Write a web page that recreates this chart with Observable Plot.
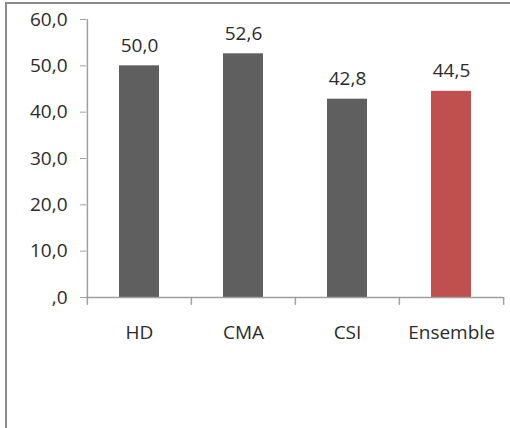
<!DOCTYPE html>
<html><head><meta charset="utf-8">
<script src="https://cdn.jsdelivr.net/npm/d3@7"></script>
<script src="https://cdn.jsdelivr.net/npm/@observablehq/plot@0.6"></script>
<style>
body{margin:0;background:#fff;}
#wrap{position:relative;width:510px;height:428px;overflow:hidden;}
#wrap svg{position:absolute;left:0;top:0;}
#border{position:absolute;left:5px;top:2px;width:520px;height:440px;border-left:2px solid #8a8a8a;border-top:2px solid #8a8a8a;}
#wrap svg [aria-label="y-axis tick"]{stroke:#a0a0a0;}
</style></head><body><div id="wrap"><div id="border"></div></div>
<script>
const categories = ["HD", "CMA", "CSI", "Ensemble"];
const values = [50.0, 52.6, 42.8, 44.5];
const valueLabels = ["50,0", "52,6", "42,8", "44,5"];
const barColors = ["#5f5f5f", "#5f5f5f", "#5f5f5f", "#c0504d"];
const yTicks = [0, 10, 20, 30, 40, 50, 60];
const yTickLabels = [",0", "10,0", "20,0", "30,0", "40,0", "50,0", "60,0"];

const data = categories.map((c, i) => ({category: c, value: values[i], label: valueLabels[i], color: barColors[i]}));
const W = 510, H = 428, mL = 86, mR = 7, mT = 19, mB = 131;
const step = (W - mL - mR) / categories.length;
const axisGrey = "#a0a0a0";
const textColor = "#2b2b2b";
const font = "'Open Sans', sans-serif";
const fs = 19;

const chart = Plot.plot({
  width: W, height: H,
  marginLeft: mL, marginRight: mR, marginTop: mT, marginBottom: mB,
  style: {fontFamily: font, fontSize: fs + "px", color: textColor, background: "transparent"},
  x: {type: "band", domain: categories, padding: 0},
  y: {domain: [0, 60], ticks: yTicks},
  marks: [
    Plot.barY(data, {x: "category", y: "value", fill: "color", insetLeft: 32, insetRight: 32}),
    Plot.ruleY([0], {stroke: axisGrey, strokeWidth: 1.5}),
    Plot.ruleX([categories[0]], {x: d => d, dx: -step / 2, y1: 0, y2: 60, stroke: axisGrey, strokeWidth: 1.5}),
    Plot.ruleX(categories, {x: d => d, dx: -step / 2, y1: 0, y2: -1.7, stroke: axisGrey, strokeWidth: 1.5}),
    Plot.ruleX([categories[categories.length - 1]], {x: d => d, dx: step / 2, y1: 0, y2: -1.7, stroke: axisGrey, strokeWidth: 1.5}),
    Plot.axisY({ticks: yTicks, tickSize: 6, tickPadding: 13, fontSize: fs,
      tickFormat: d => yTickLabels[yTicks.indexOf(d)], label: null}),
    Plot.axisX({tickSize: 0, tickPadding: 28, fontSize: fs, label: null}),
    Plot.text(data, {x: "category", y: "value", text: "label", dy: -20, fontSize: fs, fill: textColor})
  ]
});
document.getElementById("wrap").appendChild(chart);
</script>
</body></html>
